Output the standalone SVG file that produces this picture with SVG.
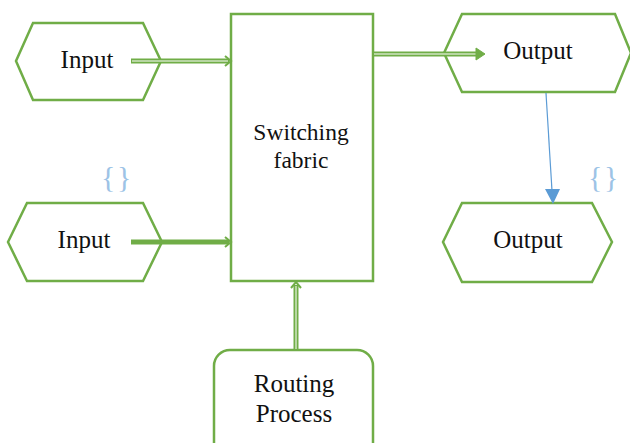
<svg xmlns="http://www.w3.org/2000/svg" width="630" height="443" viewBox="0 0 630 443">
<style>
.n{fill:#fff;stroke:#70ad47;stroke-width:2.5;stroke-linejoin:miter}
.t{font-size:25px;fill:#111;text-anchor:middle}
.dbl{stroke:#70ad47;stroke-width:5;fill:none}
.in{stroke:#fff;stroke-width:1;fill:none}
.br{font-size:30px;fill:#9dc3e6;letter-spacing:-3px}
</style>
<rect width="630" height="443" fill="#fff"/>
<g font-family="Liberation Serif, serif">
<g id="switching-fabric">
<rect class="n" x="231" y="14" width="142" height="267"/>
<text class="t" x="301" y="140" style="font-size:23.5px">Switching</text>
<text class="t" x="301" y="168" style="font-size:23.5px">fabric</text>
</g>
<g id="input1">
<polygon class="n" points="16,61 33,23 143,23 161,61 143,100 33,100"/>
<text class="t" x="87" y="68">Input</text>
</g>
<g id="input2">
<polygon class="n" points="8,242 27,203 143,203 162,242 143,281 27,281"/>
<text class="t" x="84" y="248">Input</text>
</g>
<g id="output1">
<polygon class="n" points="444,53 462,14 615,14 631,53 615,92 462,92"/>
<text class="t" x="538" y="59">Output</text>
</g>
<g id="output2">
<polygon class="n" points="443,242 462,203 592,203 612,242 592,282 462,282"/>
<text class="t" x="528" y="248">Output</text>
</g>
<g id="routing-process">
<rect class="n" x="214" y="350" width="159" height="110" rx="16"/>
<text class="t" x="294" y="392">Routing</text>
<text class="t" x="294" y="422">Process</text>
</g>
<g id="braces">
<text class="br" x="101" y="187">{ }</text>
<text class="br" x="588" y="187">{ }</text>
</g>
</g>
<g id="connectors">
<line class="dbl" x1="131" y1="61" x2="229" y2="61"/>
<line class="in" x1="132" y1="61" x2="228" y2="61"/>
<path d="M225,56 L231,61 L225,66" fill="none" stroke="#70ad47" stroke-width="2"/>
<line class="dbl" x1="374" y1="54" x2="480" y2="54"/>
<line class="in" x1="374" y1="54" x2="479" y2="54"/>
<path d="M476,48 L485,54 L476,60 Z" fill="#70ad47" stroke="#70ad47" stroke-width="1"/>
<line x1="131" y1="242" x2="229" y2="242" stroke="#70ad47" stroke-width="5"/>
<path d="M225,237 L231,242 L225,247" fill="none" stroke="#70ad47" stroke-width="2"/>
<line class="dbl" x1="296" y1="349" x2="296" y2="285"/>
<line class="in" x1="296" y1="349" x2="296" y2="286"/>
<path d="M291,288 L296,282 L301,288" fill="none" stroke="#70ad47" stroke-width="2"/>
<line x1="546" y1="93" x2="552" y2="191" stroke="#5b9bd5" stroke-width="1.2"/>
<path d="M545,189 L560,189 L553,204 Z" fill="#5b9bd5"/>
</g>
</svg>
